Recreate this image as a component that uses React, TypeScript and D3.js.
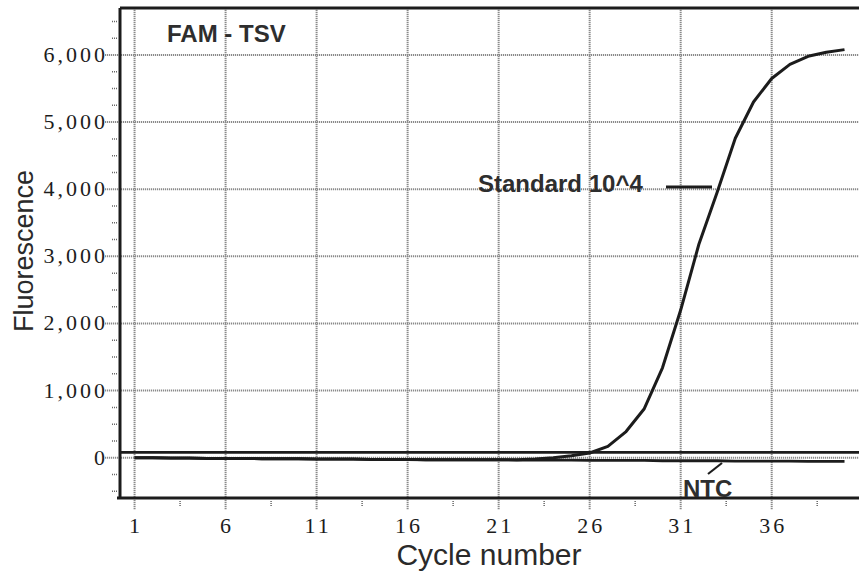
import * as d3 from 'd3';

// qPCR amplification plot, FAM channel
const cycles = d3.range(1, 41);

const ntcValues = [
  0, 0, -5, -5, -10, -10, -10, -15, -15, -15,
  -20, -20, -20, -25, -25, -25, -30, -30, -30, -30,
  -30, -35, -35, -35, -35, -40, -40, -40, -40, -45,
  -45, -45, -45, -50, -50, -50, -50, -55, -55, -55,
];

const standardValues = [
  0, 0, -5, -5, -10, -10, -10, -15, -15, -15,
  -20, -20, -20, -25, -25, -25, -30, -30, -30, -30,
  -30, -30, -20, 0, 30, 70, 170, 390, 730, 1340,
  2200, 3180, 3950, 4760, 5300, 5650, 5860, 5980, 6040, 6080,
];

const thresholdValue = 80;

const xTicks = [1, 6, 11, 16, 21, 26, 31, 36];
const xMinorTicks = [3.5, 8.5, 13.5, 18.5, 23.5, 28.5, 33.5, 38.5];
const yTicks = [0, 1000, 2000, 3000, 4000, 5000, 6000];
const yMinorTicks = [-500, -250, 250, 500, 750, 1250, 1500, 1750, 2250, 2500, 2750,
  3250, 3500, 3750, 4250, 4500, 4750, 5250, 5500, 5750, 6250, 6500];

const WIDTH = 859;
const HEIGHT = 576;
const plot = { left: 120, right: 870, top: 8, bottom: 498 };

const GRID = '#8a8a8a';
const INK = '#1c1c1c';
const SANS = '"Liberation Sans", Arial, sans-serif';
const SERIF = '"Liberation Serif", "Times New Roman", serif';

export default function App() {
  const x = d3.scaleLinear().domain([0.2, 41.4]).range([plot.left, plot.right]);
  const y = d3.scaleLinear().domain([-600, 6700]).range([plot.bottom, plot.top]);

  const line = d3.line<number>()
    .x((_, i) => x(cycles[i]))
    .y((d) => y(d));

  const fmt = d3.format(',');

  return (
    <svg
      width={WIDTH}
      height={HEIGHT}
      style={{ position: 'absolute', left: 0, top: 0, background: '#fff' }}
    >
      {/* grid */}
      <g stroke={GRID} strokeWidth={2} strokeDasharray="1.2,0.8">
        {xTicks.map((t) => (
          <line key={`gx${t}`} x1={x(t)} x2={x(t)} y1={plot.top} y2={plot.bottom + 12} />
        ))}
        {yTicks.map((t) => (
          <line key={`gy${t}`} x1={plot.left - 15} x2={plot.right} y1={y(t)} y2={y(t)} />
        ))}
      </g>

      {/* minor ticks */}
      <g stroke="#666" strokeWidth={1.5} strokeDasharray="1,1">
        {xMinorTicks.map((t) => (
          <line key={`mx${t}`} x1={x(t)} x2={x(t)} y1={plot.bottom + 3} y2={plot.bottom + 8} />
        ))}
        {yMinorTicks.map((t) => (
          <line key={`my${t}`} x1={plot.left - 8} x2={plot.left - 2} y1={y(t)} y2={y(t)} />
        ))}
      </g>

      {/* frame */}
      <g stroke={INK} strokeWidth={3} fill="none">
        <line x1={plot.left} x2={plot.right} y1={plot.top} y2={plot.top} />
        <line x1={plot.left} x2={plot.left} y1={plot.top} y2={plot.bottom} />
        <line x1={plot.left - 3} x2={plot.right} y1={plot.bottom} y2={plot.bottom} />
      </g>

      {/* threshold */}
      <line
        x1={plot.left}
        x2={plot.right}
        y1={y(thresholdValue)}
        y2={y(thresholdValue)}
        stroke={INK}
        strokeWidth={2.8}
      />

      {/* curves */}
      <path d={line(ntcValues) ?? ''} fill="none" stroke={INK} strokeWidth={2.8} />
      <path d={line(standardValues) ?? ''} fill="none" stroke={INK} strokeWidth={3} strokeLinejoin="round" />

      {/* tick labels */}
      <g fontFamily={SERIF} fontSize={22} fill={INK} letterSpacing={3}>
        {xTicks.map((t) => (
          <text key={`lx${t}`} x={x(t) + 1.5} y={533} textAnchor="middle">{t}</text>
        ))}
        {yTicks.map((t) => (
          <text key={`ly${t}`} x={108} y={y(t) + 7} textAnchor="end">{fmt(t)}</text>
        ))}
      </g>

      {/* axis titles */}
      <text
        transform="translate(33, 251) rotate(-90)"
        textAnchor="middle"
        fontFamily={SANS}
        fontSize={27}
        fill="#2a2a2a"
      >
        Fluorescence
      </text>
      <text x={489} y={565} textAnchor="middle" fontFamily={SANS} fontSize={30} fill="#2a2a2a">
        Cycle number
      </text>

      {/* annotations */}
      <g fontFamily={SANS} fontSize={24} fontWeight="bold" fill="#2e2e2e">
        <text x={167} y={42}>FAM - TSV</text>
        <text x={478} y={192}>Standard 10^4</text>
        <text x={683} y={497}>NTC</text>
      </g>
      <line x1={666} x2={712} y1={187} y2={187} stroke={INK} strokeWidth={3} />
      <line x1={708} x2={722} y1={474} y2={463} stroke={INK} strokeWidth={2.2} />
    </svg>
  );
}
